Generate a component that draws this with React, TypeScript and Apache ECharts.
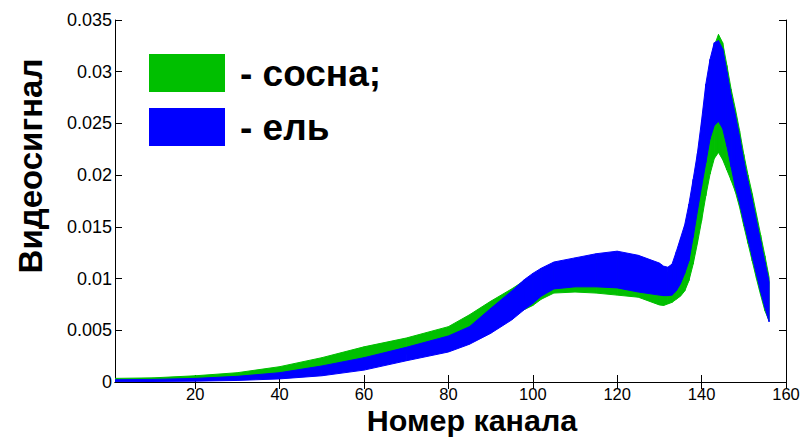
import React, { useEffect, useRef } from "react";
import * as echarts from "echarts";

// Channel numbers at which the envelopes of the spectra bands were read
const channels = [
  1, 10, 20, 30, 40, 50, 60, 70, 80, 85, 90, 95, 98, 100, 102, 105, 110, 115,
  120, 125, 130, 131, 132, 133, 134, 135, 136, 137, 138, 139, 140, 141, 142,
  143, 144, 145, 146, 147, 148, 149, 150, 151, 152, 153, 154, 155, 156,
];

// Pine (сосна) band: lower and upper envelope
const pineMin = [
  0.00012, 0.00015, 0.00025, 0.00045, 0.00075, 0.0012, 0.00185, 0.0027, 0.0037,
  0.0045, 0.0056, 0.0065, 0.007, 0.0074, 0.008, 0.0086, 0.0087, 0.0086, 0.0084,
  0.0082, 0.00745, 0.0074, 0.00755, 0.0077, 0.008, 0.0083, 0.0088, 0.0098, 0.0114,
  0.0134, 0.0156, 0.018, 0.0201, 0.0216, 0.0222, 0.0215, 0.0205, 0.0195, 0.0184,
  0.0169, 0.0151, 0.0134, 0.0117, 0.01, 0.0084, 0.0069, 0.0059,
];
const pineMax = [
  0.00035, 0.0004, 0.0006, 0.0009, 0.00148, 0.00235, 0.0034, 0.00425, 0.00535,
  0.0065, 0.0078, 0.009, 0.0098, 0.0102, 0.0107, 0.0112, 0.0115, 0.0118, 0.012,
  0.0117, 0.011, 0.0108, 0.0106, 0.0108, 0.0115, 0.013, 0.0145, 0.0165, 0.0188,
  0.0212, 0.024, 0.0275, 0.0305, 0.0325, 0.0336, 0.0328, 0.0306, 0.0283, 0.0264,
  0.0243, 0.022, 0.02, 0.0182, 0.0162, 0.0142, 0.0122, 0.0101,
];

// Spruce (ель) band: lower and upper envelope
const spruceMin = [
  0.00003, 0.00005, 0.00008, 0.00015, 0.0003, 0.0006, 0.00115, 0.00205, 0.0029,
  0.00365, 0.0047, 0.006, 0.007, 0.0076, 0.0083, 0.009, 0.0092, 0.0092, 0.0091,
  0.0087, 0.0084, 0.00835, 0.00835, 0.0084, 0.0088, 0.0095, 0.0105, 0.0117,
  0.014, 0.0165, 0.0189, 0.0212, 0.0235, 0.0248, 0.0252, 0.0245, 0.0228, 0.0208,
  0.0188, 0.0173, 0.0155, 0.0138, 0.0121, 0.0104, 0.0087, 0.0072, 0.0058,
];
const spruceMax = [
  0.00022, 0.00025, 0.00035, 0.00055, 0.0009, 0.00155, 0.00235, 0.00335,
  0.00445, 0.00535, 0.0071, 0.0088, 0.0099, 0.0105, 0.011, 0.0116, 0.012,
  0.0124, 0.01265, 0.01225, 0.0115, 0.0112, 0.0111, 0.0114, 0.0126, 0.0139,
  0.0152, 0.0172, 0.0196, 0.0221, 0.0253, 0.0288, 0.0312, 0.0328, 0.033, 0.0322,
  0.03, 0.0277, 0.0258, 0.0237, 0.0214, 0.0194, 0.0176, 0.0156, 0.0136, 0.0116,
  0.0097,
];

const xTicks = [20, 40, 60, 80, 100, 120, 140, 160];
const legendNames = ["- сосна;", "- ель"];
const xTitle = "Номер канала";
const yTitle = "Видеосигнал";

const PINE = "#00bf00";
const SPRUCE = "#0000ff";
const FONT = "'Liberation Sans', Arial, Helvetica, sans-serif";

// A band between two envelopes, drawn segment by segment through the axes' scales
function band(name: string, color: string, lo: number[], hi: number[]) {
  return {
    type: "custom",
    name,
    clip: true,
    silent: true,
    itemStyle: { color },
    encode: { x: 0, y: [1, 2] },
    data: channels.map((c, i) => [c, lo[i], hi[i]]),
    renderItem: (params: any, api: any) => {
      const i = params.dataIndex;
      if (i >= channels.length - 1) return null;
      const pts = [
        api.coord([channels[i], lo[i]]),
        api.coord([channels[i], hi[i]]),
        api.coord([channels[i + 1], hi[i + 1]]),
        api.coord([channels[i + 1], lo[i + 1]]),
      ];
      return {
        type: "polygon",
        shape: { points: pts },
        style: { fill: color, stroke: color, lineWidth: 1 },
      };
    },
  };
}

export default function App() {
  const ref = useRef<HTMLDivElement>(null);
  useEffect(() => {
    if (!ref.current) return;
    const chart = echarts.init(ref.current, null, { renderer: "svg" });
    const axisLine = { show: true, lineStyle: { color: "#000", width: 1 } };
    chart.setOption({
      animation: false,
      backgroundColor: "#fff",
      grid: { left: 115, right: 19, top: 20, bottom: 55, containLabel: false },
      legend: {
        data: legendNames,
        orient: "vertical",
        left: 144,
        top: 49,
        itemWidth: 76,
        itemHeight: 38,
        itemGap: 16,
        icon: "rect",
        selectedMode: false,
        textStyle: {
          fontSize: 37,
          fontWeight: "bold",
          fontFamily: FONT,
          color: "#000",
          padding: [0, 0, 0, 10],
        },
      },
      xAxis: [
        {
          type: "value",
          min: 1,
          max: 160,
          axisLine,
          splitLine: { show: false },
          axisTick: { show: true, inside: true, length: 7, customValues: xTicks, lineStyle: { color: "#000" } },
          axisLabel: { customValues: xTicks, fontSize: 16.5, fontFamily: FONT, color: "#000", margin: 4, lineHeight: 15 },
        },
        {
          type: "value",
          position: "top",
          min: 1,
          max: 160,
          axisLine,
          splitLine: { show: false },
          axisTick: { show: true, inside: true, length: 7, customValues: xTicks, lineStyle: { color: "#000" } },
          axisLabel: { show: false },
        },
      ],
      yAxis: [
        {
          type: "value",
          min: 0,
          max: 0.035,
          interval: 0.005,
          axisLine,
          splitLine: { show: false },
          axisTick: { show: true, inside: true, length: 7, lineStyle: { color: "#000" } },
          axisLabel: { fontSize: 18, fontFamily: FONT, color: "#000", margin: 3 },
        },
        {
          type: "value",
          position: "right",
          min: 0,
          max: 0.035,
          interval: 0.005,
          axisLine,
          splitLine: { show: false },
          axisTick: { show: true, inside: true, length: 7, lineStyle: { color: "#000" } },
          axisLabel: { show: false },
        },
      ],
      graphic: [
        {
          type: "text",
          x: 472,
          y: 421,
          scaleX: 1.05,
          style: {
            text: xTitle,
            font: `bold 29px ${FONT}`,
            lineHeight: 26,
            fill: "#000",
            textAlign: "center",
            textVerticalAlign: "middle",
          },
        },
        {
          type: "text",
          x: 30,
          y: 166,
          rotation: Math.PI / 2,
          style: {
            text: yTitle,
            font: `bold 33px ${FONT}`,
            fill: "#000",
            textAlign: "center",
            textVerticalAlign: "middle",
          },
        },
      ],
      series: [
        band(legendNames[0], PINE, pineMin, pineMax),
        band(legendNames[1], SPRUCE, spruceMin, spruceMax),
      ],
    });
    return () => chart.dispose();
  }, []);
  return (
    <div
      ref={ref}
      style={{ position: "fixed", left: 0, top: 0, width: 805, height: 437 }}
    />
  );
}
